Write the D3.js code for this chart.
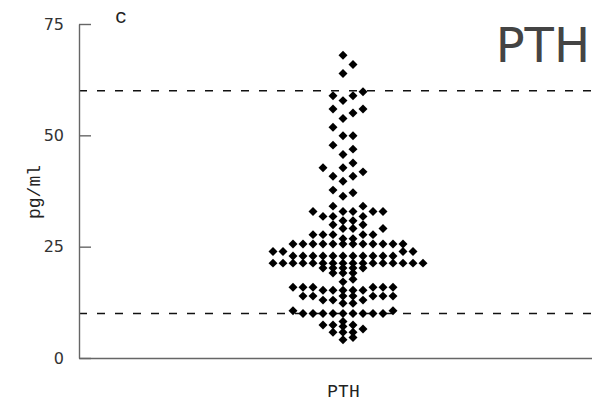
<!DOCTYPE html>
<html><head><meta charset="utf-8">
<script src="https://cdn.jsdelivr.net/npm/d3@7"></script>
<style>html,body{margin:0;padding:0;background:#fff;} svg{display:block;}</style>
</head><body><svg id="chart" width="592" height="405"></svg>
<script>
const categories = ["PTH"];
const pthValues = [
  68.0, 65.9, 63.9, 59.8, 58.9, 58.9, 57.8, 55.9, 55.9, 55.0, 53.8, 51.8,
  49.9, 49.9, 47.8, 46.9, 45.7, 43.8, 42.7, 42.7, 41.8, 40.8, 40.8, 39.7,
  37.7, 37.1, 36.3,
  34.1, 34.1,
  32.9, 32.9, 32.9, 32.9, 32.9,
  31.8, 31.8, 31.8,
  30.8, 30.8,
  29.9, 29.9,
  29.1, 29.1, 29.1,
  27.7, 27.7, 27.7, 27.7, 27.7,
  26.8, 26.8,
  25.6, 25.6, 25.6, 25.6, 25.6, 25.6, 25.6, 25.6, 25.6, 25.6, 25.6, 25.6,
  23.9, 23.9, 23.9, 23.9,
  22.9, 22.9, 22.9, 22.9, 22.9, 22.9, 22.9, 22.9, 22.9, 22.9, 22.9,
  21.3, 21.3, 21.3, 21.3, 21.3, 21.3, 21.3, 21.3, 21.3, 21.3, 21.3, 21.3, 21.3, 21.3, 21.3, 21.3,
  20.2, 20.2, 20.2, 20.2, 20.2,
  19.1, 19.1, 19.1,
  17.7, 17.1,
  15.9, 15.9, 15.9, 15.9, 15.9, 15.9,
  15.2, 15.2, 15.2, 15.2, 15.2,
  13.9, 13.9, 13.9, 13.9, 13.9, 13.9, 13.9,
  13.0, 13.0, 13.0,
  12.3, 12.3,
  10.6, 10.6,
  10.0, 10.0, 10.0, 10.0, 10.0, 10.0, 10.0, 10.0, 10.0,
  8.2,
  7.4, 7.4, 7.4, 7.1,
  6.5,
  5.8, 5.8, 5.8,
  4.6, 4.1
];
const yTicks = [0, 25, 50, 75];
const refLines = [10, 60];
const panelLabel = "c";
const yLabel = "pg/ml";
const title = "PTH";

const W = 592, H = 405;
const svg = d3.select("#chart");
svg.append("rect").attr("width", W).attr("height", H).attr("fill", "#fff");

const y = d3.scaleLinear().domain([0, 75]).range([358, 24]);
const x = d3.scalePoint().domain(categories).range([79, 607]).padding(0.5);
const col = d3.scaleLinear().domain([0, 1]).range([0, 10]);

// reference lines
svg.selectAll("line.ref").data(refLines).join("line")
  .attr("class", "ref")
  .attr("x1", 79).attr("x2", W)
  .attr("y1", d => y(d)).attr("y2", d => y(d))
  .attr("stroke", "#111").attr("stroke-width", 1.5)
  .attr("stroke-dasharray", "8,10");

// y axis
const gy = svg.append("g").attr("transform", "translate(79,0)")
  .call(d3.axisLeft(y).tickValues(yTicks).tickSizeInner(-12).tickSizeOuter(0).tickPadding(15));
gy.select(".domain").attr("stroke", "#666").attr("stroke-width", 1.4);
gy.selectAll(".tick line").attr("stroke", "#666").attr("stroke-width", 1.4);
gy.selectAll(".tick text").attr("font-family", "DejaVu Sans").attr("font-size", 16).attr("fill", "#333");

// x axis
const gx = svg.append("g").attr("transform", "translate(0,358)")
  .call(d3.axisBottom(x).tickSize(0).tickPadding(26).tickSizeOuter(0));
gx.select(".domain").attr("stroke", "#666").attr("stroke-width", 1.4);
gx.selectAll(".tick text").attr("font-family", "Liberation Mono").attr("font-size", 18).attr("fill", "#222");

// beeswarm layout computed from the values (looser stacking where points are sparser)
const placed = [];
pthValues.slice().sort((a, b) => a - b).forEach(v => {
  const py = y(v);
  const minDy = v >= 35 ? 12.5 : (v >= 27 ? 7 : 4.6);
  for (let k = 0; k < 50; k++) {
    const cands = k === 0 ? [0] : [k, -k];
    let found = null;
    for (const c of cands) {
      if (!placed.some(p => p.col === c && Math.abs(p.py - py) < minDy)) { found = c; break; }
    }
    if (found !== null) { placed.push({ v, col: found, py }); break; }
  }
});

const sym = d3.symbol(d3.symbolSquare, 40);
svg.append("g").selectAll("path").data(placed).join("path")
  .attr("d", sym)
  .attr("transform", d => `translate(${x("PTH") + col(d.col)},${y(d.v)}) rotate(45)`)
  .attr("fill", "#000");

// labels
svg.append("text").attr("transform", "translate(40,192) rotate(-90)")
  .attr("text-anchor", "middle").attr("font-family", "Liberation Mono")
  .attr("font-size", 18).attr("fill", "#222").text(yLabel);
svg.append("text").attr("x", 121).attr("y", 23).attr("text-anchor", "middle")
  .attr("font-family", "Liberation Mono").attr("font-size", 20).attr("fill", "#222").text(panelLabel);
svg.append("text").attr("x", 590).attr("y", 62).attr("text-anchor", "end")
  .attr("font-family", "DejaVu Sans").attr("font-size", 48).attr("fill", "#444").text(title);
</script></body></html>
